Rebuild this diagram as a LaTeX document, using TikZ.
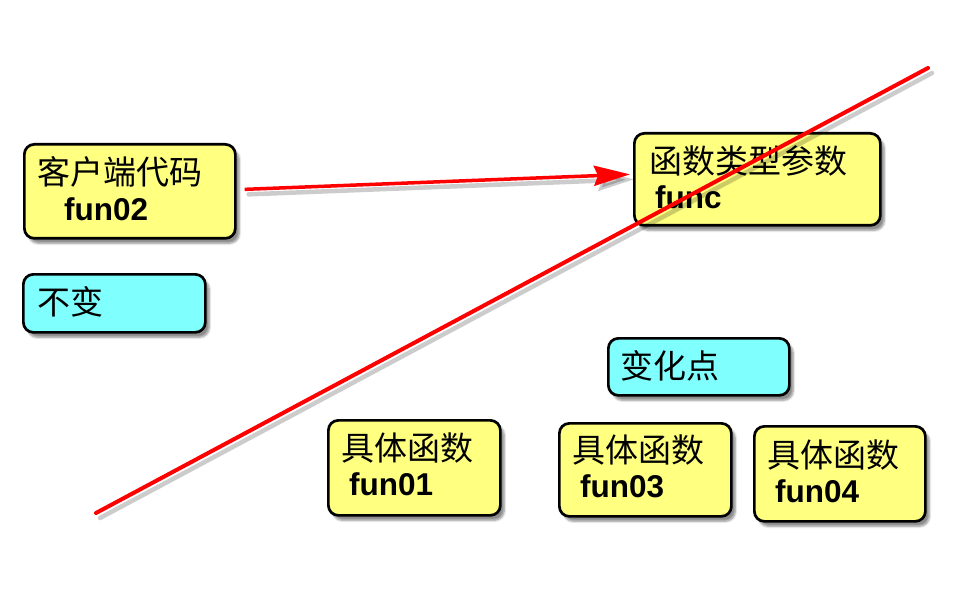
\documentclass[tikz,border=0pt]{standalone}
\usepackage{fontspec}
\setmainfont{Liberation Sans}
\newfontfamily\cjk{Noto Sans CJK SC}
\usetikzlibrary{shadows.blur,arrows.meta}
\definecolor{boxyellow}{RGB}{255,255,128}
\definecolor{boxcyan}{RGB}{128,255,255}
\tikzset{
  box/.style={draw=black, line width=2.7pt, rounded corners=10pt, inner sep=0pt,
    anchor=north west,
    blur shadow={shadow xshift=4pt, shadow yshift=-5pt, shadow blur steps=6, shadow opacity=45}},
  ybox/.style={box, fill=boxyellow},
  cbox/.style={box, fill=boxcyan},
  cn/.style={anchor=west, inner sep=0pt, font=\cjk\fontsize{33}{33}\selectfont},
  en/.style={anchor=west, inner sep=0pt, font=\bfseries\fontsize{31.5}{31.5}\selectfont},
  redline/.style={draw=red, line width=4pt, line cap=round},
  shadowline/.style={draw=black, opacity=0.2, line width=4.5pt, line cap=round}
}
\begin{document}
\begin{tikzpicture}[x=1pt,y=-1pt]
\useasboundingbox (0,0) rectangle (960,612);
% boxes
\node[ybox, minimum width=211pt, minimum height=94pt] (client) at (23,143) {};
\node[cbox, minimum width=182pt, minimum height=58pt] (bubian) at (22,273) {};
\node[ybox, minimum width=246pt, minimum height=92pt] (func) at (633,132) {};
\node[cbox, minimum width=181pt, minimum height=57pt] (bianhua) at (607,337) {};
\node[ybox, minimum width=172pt, minimum height=95pt] (f1) at (327,419) {};
\node[ybox, minimum width=172pt, minimum height=93pt] (f3) at (558,422) {};
\node[ybox, minimum width=171pt, minimum height=95pt] (f4) at (753,425) {};
% texts
\node[cn] (clientcn) at (37,172) {客户端代码};
\node[en] (clienten) at (64,209) {fun02};
\node[cn] (bubiancn) at (37,302) {不变};
\node[cn] (funccn) at (649,161) {函数类型参数};
\node[en] (funcen) at (655,197) {func};
\node[cn] (bianhuacn) at (620,366) {变化点};
\node[cn] (f1cn) at (341,448) {具体函数};
\node[en] (f1en) at (349,484) {fun01};
\node[cn] (f3cn) at (572,450) {具体函数};
\node[en] (f3en) at (580,486) {fun03};
\node[cn] (f4cn) at (767,455) {具体函数};
\node[en] (f4en) at (775,491) {fun04};
% arrow client -> func
\coordinate (as) at ([xshift=8pt,yshift=2pt]client.east);
\coordinate (ae) at ([xshift=-3pt,yshift=5pt]func.west);
\draw[shadowline, -{Stealth[length=36pt,width=20pt,inset=4pt]}] ([shift={(4,5)}]as) -- ([shift={(4,5)}]ae);
\draw[redline, line width=3.5pt, line cap=butt, -{Stealth[length=36pt,width=20pt,inset=4pt]}, fill=red] (as) -- (ae);
% diagonal line
\coordinate (d1) at (96,513);
\coordinate (d2) at (928,68);
\draw[shadowline] ([shift={(4,5)}]d1) -- ([shift={(4,5)}]d2);
\draw[redline] (d1) -- (d2);
\end{tikzpicture}
\end{document}
